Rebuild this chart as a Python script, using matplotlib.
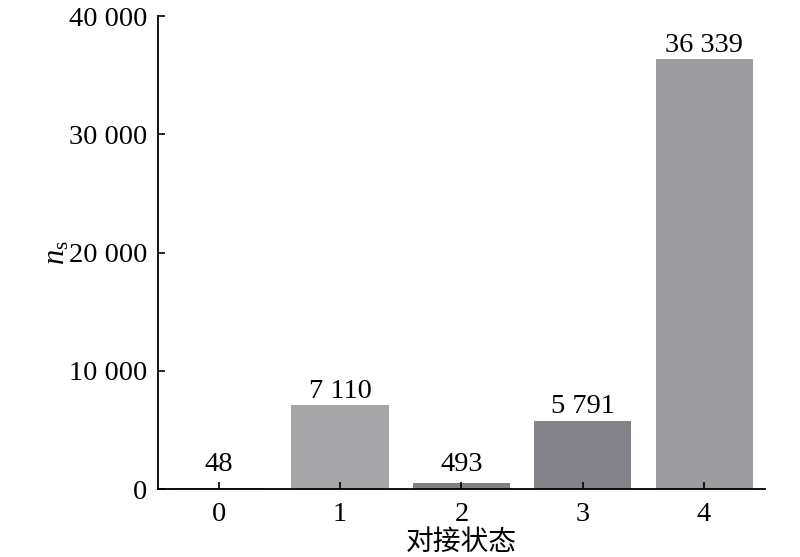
import matplotlib
matplotlib.use("Agg")
import matplotlib.pyplot as plt

# data
states = [0, 1, 2, 3, 4]
counts = [48, 7110, 493, 5791, 36339]
colors = ['#a0a0a4', '#a6a6a8', '#808086', '#838389', '#9d9da1']
yticks = [0, 10000, 20000, 30000, 40000]

plt.rcParams['font.family'] = ['Liberation Serif', 'Noto Sans CJK SC']
plt.rcParams['mathtext.fontset'] = 'custom'
plt.rcParams['mathtext.rm'] = 'Liberation Serif'
plt.rcParams['mathtext.it'] = 'Liberation Serif:italic'


def fmt(v):
    return f"{v:,}".replace(",", " ")


fig = plt.figure(figsize=(8, 5.57), dpi=100)
ax = fig.add_axes([0.1975, 0.122, 0.7585, 0.849])

bars = ax.bar(states, counts, width=0.8, color=colors)
for b, v in zip(bars, counts):
    # tiny bars get their label lifted off the axis
    ax.text(b.get_x() + b.get_width() / 2, max(v, 900) + 120, fmt(v),
            ha='center', va='bottom', fontsize=20.5)

ax.set_xlim(-0.5, 4.5)
ax.set_ylim(0, 40000)
ax.set_xticks(states)
ax.set_yticks(yticks)
ax.set_yticklabels([fmt(t) for t in yticks])
ax.tick_params(direction='in', length=5, width=1.2, labelsize=20.5)
ax.tick_params(axis='x', pad=9)
ax.tick_params(axis='y', pad=8)

for s in ['top', 'right']:
    ax.spines[s].set_visible(False)
for s in ['left', 'bottom']:
    ax.spines[s].set_linewidth(1.3)

ax.set_xlabel('对接状态', fontsize=20, family=['Noto Sans CJK SC'], labelpad=0)
ax.set_ylabel(r'$n_\mathrm{s}$', fontsize=22, labelpad=-2)

fig.savefig('out.png', dpi=100)
